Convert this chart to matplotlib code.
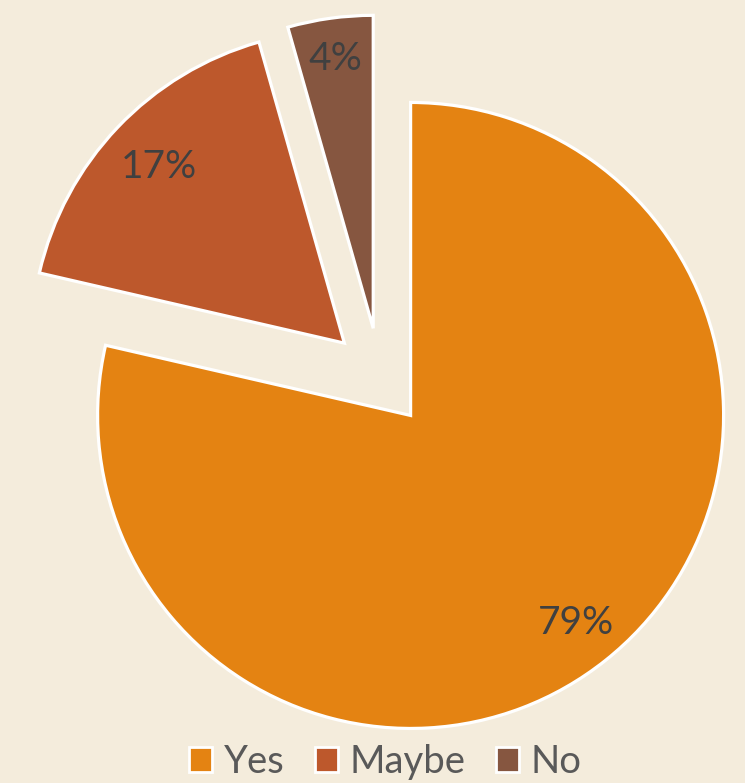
import numpy as np
import matplotlib
matplotlib.use("Agg")
import matplotlib.pyplot as plt
from matplotlib.patches import Patch

labels = ["Yes", "Maybe", "No"]
shares = [78.6, 17.0, 4.4]
colors = ["#E48312", "#BD582C", "#865640"]
explode = [0.157, 0.157, 0.157]
label_dist = [0.848, 0.818, 0.87]

BG = "#F4ECDC"
plt.rcParams["font.family"] = ["Lato", "DejaVu Sans"]

fig = plt.figure(figsize=(7.45, 7.83), dpi=100)
fig.patch.set_facecolor(BG)
ax = fig.add_axes([0, 0, 1, 1])
ax.set_facecolor(BG)

wedges, texts, autotexts = ax.pie(
    shares, colors=colors, explode=explode, startangle=90, counterclock=False,
    autopct=lambda p: f"{p:.0f}%", pctdistance=0.84, radius=1.0,
    wedgeprops=dict(edgecolor="white", linewidth=2.3),
    textprops=dict(fontsize=28, color="#404040"))

# move the percentage labels to where Excel's "best fit" put them
for w, t, d in zip(wedges, autotexts, label_dist):
    mid = np.deg2rad((w.theta1 + w.theta2) / 2)
    cx, cy = w.center
    t.set_position((cx + d * np.cos(mid), cy + d * np.sin(mid)))

# pixel-matched limits: 1 unit = 313 px, pie centre at (380, 377) px
ax.set_aspect("auto")
ax.set_xlim(-380 / 313, (745 - 380) / 313)
ax.set_ylim(-(783 - 377) / 313, 377 / 313)
ax.axis("off")

handles = [Patch(facecolor=c, edgecolor="white", linewidth=2) for c in colors]
fig.legend(handles, labels, loc="center", bbox_to_anchor=(0.517, 0.027),
           ncol=3, frameon=False, fontsize=27.5, labelcolor="#595959",
           handlelength=0.6, handleheight=0.6, handletextpad=0.3,
           columnspacing=0.8, borderaxespad=0)

fig.savefig("out.png", dpi=100, facecolor=BG)
